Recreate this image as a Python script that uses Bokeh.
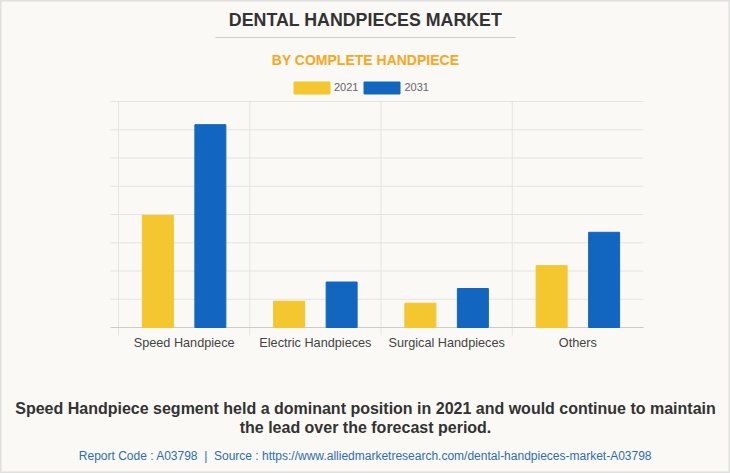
from bokeh.plotting import figure
from bokeh.models import (ColumnDataSource, Range1d, Label, Legend, LegendItem,
                          BoxAnnotation)
from bokeh.core.properties import value
from bokeh.transform import dodge
from bokeh.embed import file_html
from bokeh.resources import INLINE
import numpy as np

categories = ["Speed Handpiece", "Electric Handpieces", "Surgical Handpieces", "Others"]
values_2021 = [397, 93, 86, 219]
values_2031 = [718, 161, 138, 337]
years = ["2021", "2031"]
colors = ["#F4C630", "#1366C0"]
grid_ticks = [100, 200, 300, 400, 500, 600, 700, 800]

title = "DENTAL HANDPIECES MARKET"
subtitle = "BY COMPLETE HANDPIECE"
caption = ["Speed Handpiece segment held a dominant position in 2021 and would continue to maintain",
           "the lead over the forecast period."]
footer_text = "Report Code : A03798\u00a0 | \u00a0Source : https://www.alliedmarketresearch.com/dental-handpieces-market-A03798"

BG = "#faf9f5"
GRID = "#e4e4e4"
W, H = 730, 473

# plot-area geometry in page pixels
PL, PR, PT, PB = 118, 643, 101, 327
n = len(categories)
ymax = grid_ticks[-1]
ppx = (PR - PL) / n
ppy = (PB - PT) / ymax
x_range = Range1d(-PL / ppx, n + (W - PR) / ppx)
y_range = Range1d(-(H - PB) / ppy, ymax + PT / ppy)
left_pad = -8 / ppx

p = figure(width=W, height=H, output_backend="svg", toolbar_location=None,
           x_range=x_range, y_range=y_range,
           x_axis_location=None, y_axis_location=None,
           min_border=0, min_border_left=0, min_border_right=0,
           min_border_top=0, min_border_bottom=0)
p.grid.visible = False
p.background_fill_color = BG
p.border_fill_color = BG
p.outline_line_color = "#e0e0e0"
p.outline_line_width = 2

# grid lines
p.segment(x0=left_pad, x1=n, y0=grid_ticks, y1=grid_ticks, line_color=GRID, line_width=1)
bounds = np.arange(n)
p.segment(x0=bounds, x1=bounds, y0=-8 / ppy, y1=ymax, line_color=GRID, line_width=1)
p.segment(x0=[left_pad], x1=[n], y0=[0], y1=[0], line_color="#cccccc", line_width=1)

src = ColumnDataSource(dict(
    x=np.arange(n) + 0.5,
    cat=categories,
    v2021=values_2021,
    v2031=values_2031,
))

r1 = p.vbar(x=dodge("x", -0.2), top="v2021", width=0.236, source=src,
            fill_color=colors[0], line_color=colors[0])
r2 = p.vbar(x=dodge("x", 0.2), top="v2031", width=0.236, source=src,
            fill_color=colors[1], line_color=colors[1])

# category labels
p.text(x="x", y=0, text="cat", source=src, y_offset=15, text_align="center",
       text_baseline="middle", text_font=value("Liberation Sans"),
       text_font_size="12.7px", text_color="#444444")

legend = Legend(items=[LegendItem(label=years[0], renderers=[r1]),
                       LegendItem(label=years[1], renderers=[r2])],
                orientation="horizontal", location=(289, H - 94.5),
                glyph_width=45, glyph_height=15, label_height=15,
                label_standoff=-1, spacing=1, padding=0, margin=0,
                label_text_font="Liberation Sans", label_text_font_size="11px",
                label_text_color="#666666", background_fill_alpha=0,
                border_line_color=None)
p.add_layout(legend)


def lab(text, x, y, size, color, style="bold"):
    p.add_layout(Label(x=x, y=H - y, x_units="screen", y_units="screen", text=text,
                       text_align="center", text_baseline="middle",
                       text_font="Liberation Sans", text_font_size=size,
                       text_font_style=style, text_color=color))


lab(title, 365, 19, "17.8px", "#333333")
p.add_layout(BoxAnnotation(left=215, right=515, top=H - 36.5, bottom=H - 37.5,
                           left_units="screen", right_units="screen",
                           top_units="screen", bottom_units="screen",
                           fill_color="#cccccc", fill_alpha=1, line_color=None))
lab(subtitle, 365, 59, "14px", "#F7A724")
lab(caption[0], 365, 408, "16px", "#333333")
lab(caption[1], 365, 427, "16px", "#333333")
lab(footer_text, 365, 455, "12px", "#2e6db4", style="normal")

open("out.html", "w").write(file_html(p, INLINE))
